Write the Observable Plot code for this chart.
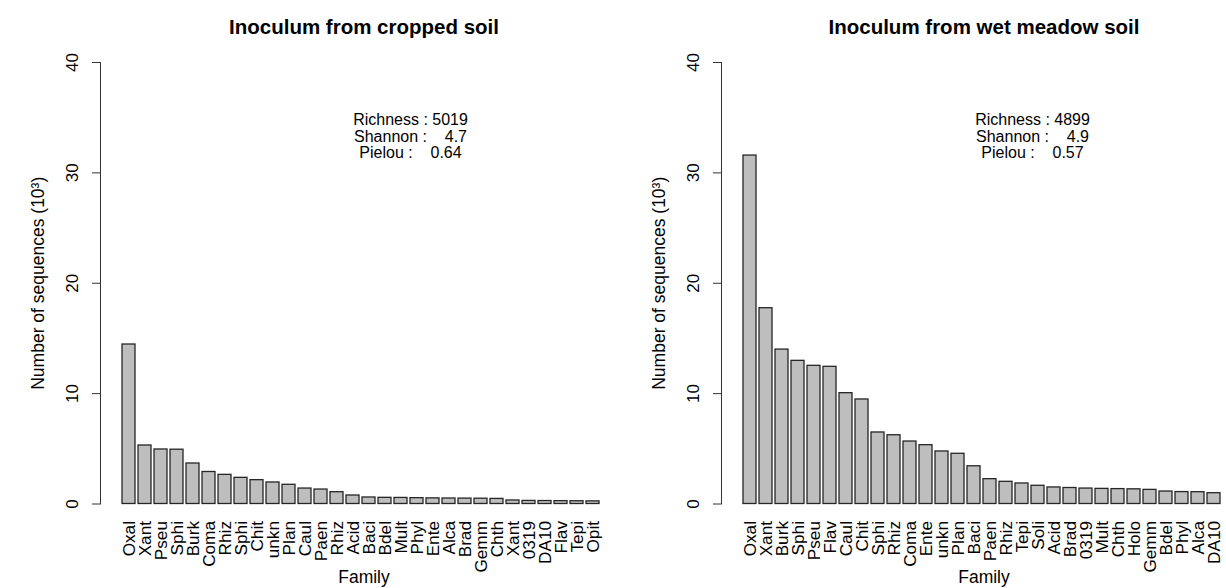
<!DOCTYPE html>
<html>
<head>
<meta charset="utf-8">
<script src="https://cdn.jsdelivr.net/npm/d3@7"></script>
<script src="https://cdn.jsdelivr.net/npm/@observablehq/plot@0.6"></script>
<style>
  html, body { margin: 0; padding: 0; background: #ffffff; }
  #wrap { display: flex; width: 1226px; height: 588px; overflow: hidden; }
  #wrap svg text { white-space: pre; }
</style>
</head>
<body>
<div id="wrap"></div>
<script>
// ---- data ----
const leftTitle = "Inoculum from cropped soil";
const rightTitle = "Inoculum from wet meadow soil";
const leftFamilies = ["Oxal","Xant","Pseu","Sphi","Burk","Coma","Rhiz","Sphi","Chit","unkn","Plan","Caul","Paen","Rhiz","Acid","Baci","Bdel","Mult","Phyl","Ente","Alca","Brad","Gemm","Chth","Xant","0319","DA10","Flav","Tepi","Opit"];
const leftCounts = [14.45,5.3,4.94,4.92,3.67,2.9,2.64,2.37,2.16,1.95,1.74,1.40,1.31,1.07,0.77,0.59,0.56,0.55,0.53,0.51,0.50,0.49,0.48,0.46,0.32,0.28,0.27,0.26,0.25,0.24];
const rightFamilies = ["Oxal","Xant","Burk","Sphi","Pseu","Flav","Caul","Chit","Sphi","Rhiz","Coma","Ente","unkn","Plan","Baci","Paen","Rhiz","Tepi","Soli","Acid","Brad","0319","Mult","Chth","Holo","Gemm","Bdel","Phyl","Alca","DA10"];
const rightCounts = [31.57,17.74,13.99,12.97,12.52,12.43,10.04,9.47,6.48,6.23,5.66,5.33,4.76,4.55,3.42,2.25,2.01,1.86,1.65,1.50,1.45,1.40,1.37,1.35,1.33,1.28,1.13,1.08,1.07,0.98];
const yTicks = [0, 10, 20, 30, 40];
const statLabels = ["Richness : ", "Shannon :    ", "Pielou :    "];
const leftStats = ["5019", "4.7", "0.64"];
const rightStats = ["4899", "4.9", "0.57"];
const xLabel = "Family";
const yLabel = "Number of sequences (10\u00b3)";

const FONT = "'Liberation Sans', Arial, Helvetica, sans-serif";

function panel({families, counts, title, stats, marginLeft, xRange, statsDx, centerDx}) {
  const data = families.map((f, i) => ({i, f, v: counts[i]}));
  const statText = statLabels.map((l, k) => l + stats[k]).join("\n");
  return Plot.plot({
    width: 613,
    height: 588,
    marginLeft,
    marginRight: 0,
    marginTop: 62,
    marginBottom: 84.5,
    style: {fontFamily: FONT, fontSize: "17px", background: "white", color: "black", overflow: "visible"},
    x: {type: "band", domain: d3.range(families.length), range: xRange, paddingInner: 1/6, paddingOuter: 0, label: null},
    y: {domain: [0, 40], label: null},
    marks: [
      Plot.barY(data, {x: "i", y: "v", fill: "#bebebe", stroke: "#262626", strokeWidth: 1.3}),
      Plot.axisX({tickSize: 0, tickPadding: 17, tickRotate: -90, tickFormat: i => families[i], fontSize: 17.2, label: null}),
      Plot.axisY({ticks: yTicks, tickSize: 8, tickFormat: () => "", label: null, stroke: "#333"}),
      Plot.text(yTicks, {y: d => d, text: d => String(d), frameAnchor: "left", textAnchor: "middle", dx: -28, rotate: -90, fontSize: 17}),
      Plot.frame({anchor: "left", stroke: "#333"}),
      Plot.text([yLabel], {frameAnchor: "left", textAnchor: "middle", dx: -62, rotate: -90, fontSize: 17.5}),
      Plot.text([xLabel], {frameAnchor: "bottom", dy: 79, dx: centerDx, fontSize: 17.5}),
      Plot.text([title], {frameAnchor: "top", dy: -43, dx: centerDx, fontSize: 20.5, fontWeight: "bold"}),
      Plot.text([statText], {frameAnchor: "top-left", dx: statsDx, dy: 50, textAnchor: "middle", lineHeight: 1.06, fontSize: 16})
    ]
  });
}

const wrap = document.getElementById("wrap");
wrap.appendChild(panel({
  families: leftFamilies, counts: leftCounts, title: leftTitle, stats: leftStats,
  marginLeft: 100, xRange: [121, 601.3], statsDx: 310, centerDx: 7
}));
wrap.appendChild(panel({
  families: rightFamilies, counts: rightCounts, title: rightTitle, stats: rightStats,
  marginLeft: 108, xRange: [128.7, 609], statsDx: 311, centerDx: 10
}));
</script>
</body>
</html>
